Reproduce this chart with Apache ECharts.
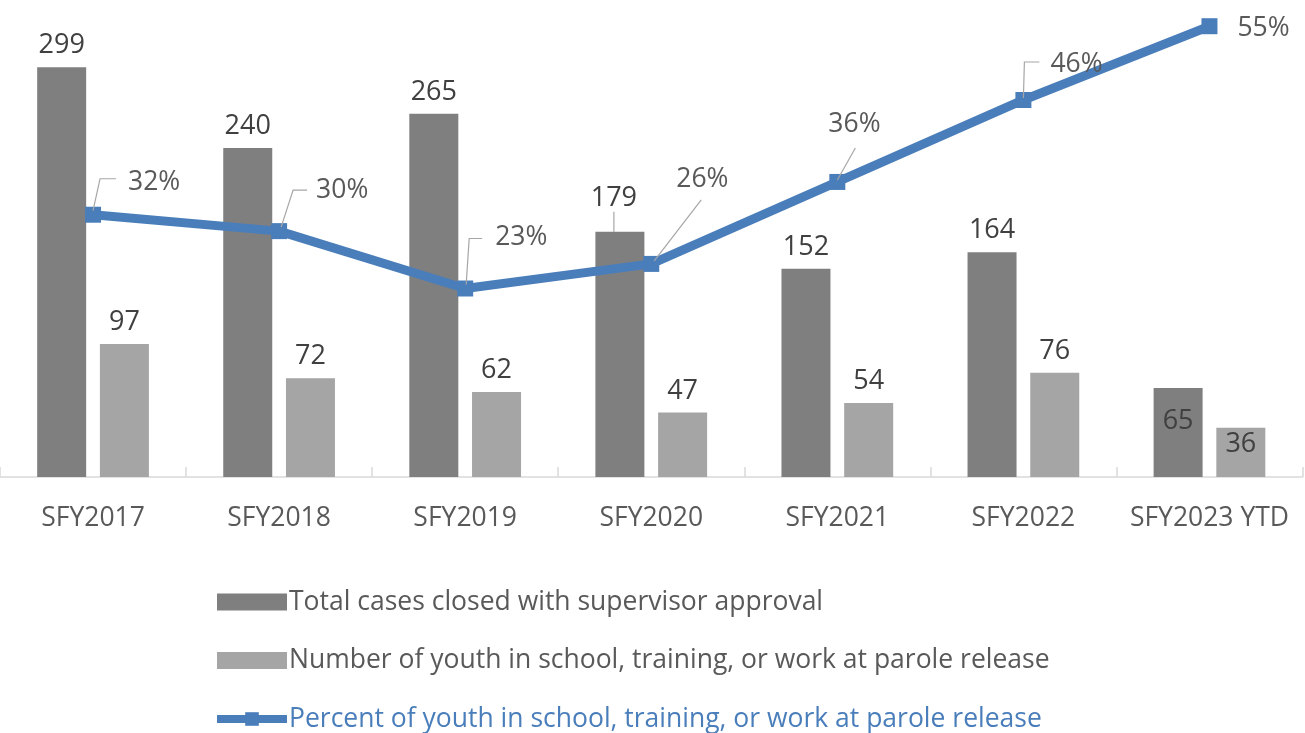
<!DOCTYPE html>
<html>
<head>
<meta charset="utf-8">
<script src="https://cdn.jsdelivr.net/npm/echarts@6/dist/echarts.min.js"></script>
<style>
  html, body { margin: 0; padding: 0; background: #ffffff; }
  #chart { width: 1305px; height: 733px; }
</style>
</head>
<body>
<div id="chart"></div>
<script>
// Parole release outcomes by state fiscal year
const categories = ['SFY2017', 'SFY2018', 'SFY2019', 'SFY2020', 'SFY2021', 'SFY2022', 'SFY2023 YTD'];
const totalClosed = [299, 240, 265, 179, 152, 164, 65];
const youthEngaged = [97, 72, 62, 47, 54, 76, 36];
const pctEngaged = [0.32, 0.30, 0.23, 0.26, 0.36, 0.46, 0.55];

const seriesNames = [
  'Total cases closed with supervisor approval',
  'Number of youth in school, training, or work at parole release',
  'Percent of youth in school, training, or work at parole release'
];

// Callout placement for the percentage labels (pixel offsets from each point)
const pctCallouts = [
  { line: [[0, -4], [7, -36], [23, -36]], text: [35, -32] },
  { line: [[2, -4], [14, -41], [28, -41]], text: [37, -41] },
  { line: [[1, -4], [4, -50], [17, -50]], text: [30, -51] },
  { line: [[3, -3], [50, -64]], text: [25, -84] },
  { line: [[0, -2], [18, -34]], text: [-9, -57] },
  { line: [[0, -2], [1, -38], [16, -38]], text: [27, -36] },
  { line: null, text: [28, 2] }
];

const FONT = '"Open Sans", Lato, sans-serif';
const DARK = '#7f7f7f';
const LIGHT = '#a5a5a5';
const BLUE = '#4a7ebb';
const TEXT = '#595959';

const chart = echarts.init(document.getElementById('chart'), null, { renderer: 'canvas' });

const barLabel = {
  show: true,
  position: 'top',
  distance: 8,
  color: '#404040',
  fontFamily: FONT,
  fontSize: 27
};

const option = {
  animation: false,
  backgroundColor: '#ffffff',
  textStyle: { fontFamily: FONT },
  grid: { left: -6.5, right: 2.5, top: 0, bottom: 256, containLabel: false },
  legend: {
    orient: 'vertical',
    left: 213,
    top: 587,
    height: 160,
    padding: 0,
    itemWidth: 70,
    itemHeight: 17,
    itemGap: 28.5,
    textStyle: { fontFamily: FONT, fontSize: 26.5, color: TEXT, lineHeight: 30, padding: [0, 0, 0, -3] },
    data: [
      { name: seriesNames[0], icon: 'rect' },
      { name: seriesNames[1], icon: 'rect' },
      { name: seriesNames[2], textStyle: { color: BLUE }, lineStyle: { width: 8 } }
    ]
  },
  xAxis: {
    type: 'category',
    data: categories,
    boundaryGap: true,
    axisLine: { show: true, lineStyle: { color: '#d9d9d9', width: 1.5 } },
    axisTick: { show: true, inside: true, length: 10, lineStyle: { color: '#d9d9d9', width: 1.5 } },
    axisLabel: { interval: 0, color: TEXT, fontFamily: FONT, fontSize: 26.5, margin: 28 }
  },
  yAxis: [
    { type: 'value', min: 0, max: 348, show: false, splitLine: { show: false } },
    { type: 'value', min: 0, max: 0.582, show: false, splitLine: { show: false } }
  ],
  series: [
    {
      name: seriesNames[0],
      type: 'bar',
      barWidth: 49,
      barGap: '28%',
      itemStyle: { color: DARK },
      label: barLabel,
      labelLine: { show: false },
      labelLayout: function (params) {
        if (params.dataIndex === 3) {
          return { dx: -6, dy: -12 };
        }
        return {};
      },
      data: totalClosed.map(function (v, i) {
        if (i === 3) {
          return { value: v, labelLine: { show: true, lineStyle: { color: '#a6a6a6', width: 1.2 } } };
        }
        if (i === categories.length - 1) {
          return { value: v, label: { position: 'insideTop', distance: 20 } };
        }
        return v;
      })
    },
    {
      name: seriesNames[1],
      type: 'bar',
      barWidth: 49,
      itemStyle: { color: LIGHT },
      label: barLabel,
      data: youthEngaged.map(function (v, i) {
        if (i === categories.length - 1) {
          return { value: v, label: { position: 'insideTop', distance: 3 } };
        }
        return v;
      })
    },
    {
      name: seriesNames[2],
      type: 'line',
      yAxisIndex: 1,
      data: pctEngaged,
      symbol: 'rect',
      symbolSize: 16,
      showAllSymbol: true,
      lineStyle: { color: BLUE, width: 9 },
      itemStyle: { color: BLUE },
      label: { show: false },
      z: 3
    },
    {
      // percentage callouts with leader lines
      type: 'custom',
      yAxisIndex: 1,
      silent: true,
      z: 5,
      data: pctEngaged.map(function (v, i) { return [i, v]; }),
      renderItem: function (params, api) {
        const i = params.dataIndex;
        const v = api.value(1);
        const p = api.coord([i, v]);
        const c = pctCallouts[i];
        const children = [];
        if (c.line) {
          children.push({
            type: 'polyline',
            shape: { points: c.line.map(function (d) { return [p[0] + d[0], p[1] + d[1]]; }) },
            style: { stroke: '#a6a6a6', lineWidth: 1.2, fill: null }
          });
        }
        children.push({
          type: 'text',
          x: p[0] + c.text[0],
          y: p[1] + c.text[1],
          style: {
            text: Math.round(v * 100) + '%',
            fill: TEXT,
            font: '26.5px ' + FONT,
            align: 'left',
            verticalAlign: 'middle'
          }
        });
        return { type: 'group', children: children };
      }
    }
  ]
};

chart.setOption(option);
</script>
</body>
</html>
